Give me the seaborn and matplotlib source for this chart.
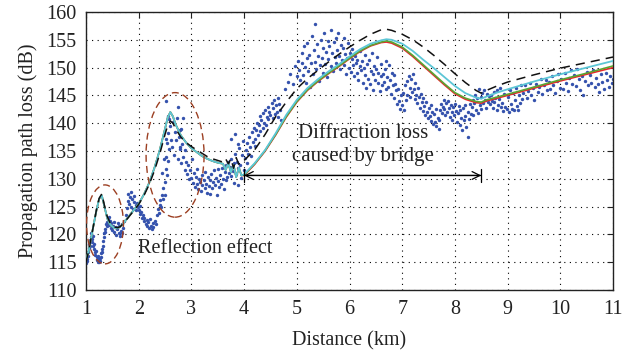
import matplotlib
matplotlib.use("Agg")
import matplotlib.pyplot as plt
from matplotlib.patches import Ellipse
import seaborn as sns
import pandas as pd

# ---------------- data ----------------
measured_points = [
    (1.00,114.8),(1.01,115.5),(1.02,115.2),(1.03,116.1),(1.04,116.8),(1.05,117.5),(1.06,118.3),(1.07,117.9),
    (1.08,119.0),(1.09,119.6),(1.10,120.3),(1.11,119.2),
    (1.12,118.6),(1.13,119.8),(1.14,118.0),(1.15,117.4),(1.16,118.2),(1.17,116.9),(1.18,116.3),(1.19,117.1),
    (1.20,115.9),(1.21,115.4),(1.22,116.2),(1.23,115.1),(1.24,115.6),(1.25,115.0),(1.26,115.8),(1.27,115.3),(1.28,116.0),
    (1.29,116.6),(1.30,117.3),(1.31,116.9),(1.32,118.0),(1.33,118.8),(1.34,119.5),(1.35,120.3),(1.36,121.0),
    (1.37,120.4),(1.38,121.8),(1.39,122.3),(1.40,121.5),(1.41,122.8),(1.42,122.0),(1.43,123.1),(1.44,121.7),(1.45,122.4),
    (1.47,121.2),(1.48,122.0),(1.50,120.8),(1.51,121.6),(1.53,122.3),(1.54,120.5),(1.56,121.4),(1.57,119.9),
    (1.59,121.0),(1.60,122.1),(1.62,120.3),(1.63,121.5),(1.65,119.8),(1.66,120.7),(1.68,121.9),(1.69,120.2),(1.71,121.1),(1.72,122.5),
    (1.75,123.5),(1.77,124.8),(1.79,126.0),(1.80,127.2),(1.82,125.5),(1.83,126.8),(1.85,125.0),(1.86,127.6),
    (1.88,126.3),(1.89,124.6),(1.91,125.9),(1.92,126.9),(1.94,125.2),(1.95,124.3),(1.97,125.7),(1.98,124.9),
    (2.00,124.4),(2.02,125.1),(2.03,123.6),(2.05,124.0),(2.06,122.9),(2.08,123.5),(2.10,122.4),(2.11,123.0),
    (2.13,121.9),(2.15,122.6),(2.16,121.5),(2.18,122.2),(2.20,121.2),(2.21,122.8),(2.23,121.6),(2.25,120.9),
    (2.27,122.0),(2.28,121.3),(2.30,122.5),(2.32,121.8),
    (2.34,123.4),(2.36,124.5),(2.38,123.9),(2.40,125.3),(2.41,126.2),(2.43,125.0),(2.44,127.1),(2.46,126.4),
    (2.47,128.3),(2.49,127.0),(2.50,129.5),(2.51,131.8),(2.52,134.0),(2.53,130.6),(2.54,136.5),(2.55,133.2),
    (2.56,138.3),(2.57,135.4),(2.58,140.8),(2.45,131.0),(2.48,133.5),(2.52,137.2),(2.55,141.3),(2.52,144.0),
    (2.60,139.5),(2.62,137.0),(2.75,143.0),(2.84,141.0),(2.78,138.8),(2.79,135.7),
    (2.63,135.8),(2.65,140.2),(2.67,134.2),(2.69,138.4),(2.71,136.9),(2.73,141.0),(2.74,133.5),(2.76,137.6),
    (2.78,135.3),(2.80,139.0),(2.81,132.8),(2.83,136.2),(2.85,134.0),(2.87,131.6),(2.88,135.1),(2.90,133.0),
    (2.92,130.8),(2.94,132.4),(2.96,129.9),(2.98,131.5),(3.00,130.2),(3.02,133.6),
    (3.03,129.3),(3.05,131.0),(3.06,128.6),(3.08,130.4),(3.10,129.0),(3.11,131.7),(3.13,128.1),(3.15,130.0),
    (3.16,129.4),(3.18,127.8),(3.20,130.6),(3.21,128.9),(3.23,129.7),(3.25,128.3),(3.26,131.2),(3.28,129.0),
    (3.30,127.5),(3.31,130.3),(3.33,128.7),(3.35,129.8),(3.36,127.2),(3.38,130.9),(3.40,128.4),(3.41,129.5),
    (3.43,131.5),(3.45,128.9),(3.46,130.2),(3.48,127.0),(3.50,129.6),(3.51,131.8),(3.53,128.5),(3.55,130.6),
    (3.56,129.1),(3.58,132.0),(3.60,130.0),(3.61,128.2),(3.63,131.2),(3.65,129.7),(3.66,132.5),(3.68,130.4),
    (3.70,133.0),(3.71,131.1),
    (3.73,132.2),(3.75,130.5),(3.76,133.6),(3.78,131.4),(3.80,129.3),(3.81,132.8),(3.83,134.5),(3.85,130.8),
    (3.86,133.0),(3.88,128.9),(3.89,131.9),(3.91,135.6),(3.93,132.5),(3.94,130.2),(3.96,134.2),(3.98,136.8),
    (3.99,131.5),(3.75,137.2),(3.82,138.0),(3.88,136.2),
    (4.01,133.8),(4.03,135.2),(4.05,132.9),(4.06,136.4),(4.08,134.5),(4.10,137.6),(4.11,135.8),(4.13,134.1),
    (4.15,138.5),(4.16,136.7),(4.18,139.2),(4.20,137.1),(4.21,135.9),(4.23,138.8),(4.25,140.1),(4.26,137.9),
    (4.28,139.6),(4.30,141.3),(4.31,138.6),(4.33,140.5),(4.35,139.2),(4.36,141.8),(4.38,140.0),(4.40,142.4),
    (4.41,139.6),(4.43,141.1),(4.45,143.0),(4.46,140.7),(4.48,142.1),(4.50,141.5),
    (4.52,143.6),(4.54,140.9),(4.55,142.8),(4.57,144.1),(4.59,141.7),(4.60,143.3),(4.62,142.0),(4.64,144.6),
    (4.65,141.2),(4.67,143.5),(4.69,142.4),(4.70,140.5),
    (4.78,146.2),(4.83,147.5),(4.88,148.9),(4.92,147.0),(4.96,150.3),(5.00,148.4),(5.03,151.2),(5.05,149.6),
    (5.07,147.8),(5.09,150.9),(5.10,152.6),(5.12,148.6),(5.14,153.8),(5.15,150.1),(5.17,147.2),(5.19,151.7),
    (5.20,154.5),(5.22,149.3),(5.24,152.3),(5.25,146.5),(5.27,150.8),(5.29,155.6),(5.30,148.9),(5.32,153.1),
    (5.34,151.0),(5.35,157.9),(5.37,149.7),(5.39,154.2),(5.40,152.0),(5.42,147.6),(5.44,150.4),(5.45,155.0),
    (5.47,151.8),(5.49,149.1),(5.50,153.5),(5.52,156.3),(5.54,150.6),(5.55,152.8),(5.57,148.3),(5.59,154.8),
    (5.60,151.5),(5.62,153.9),(5.64,150.2),(5.65,156.7),(5.67,152.6),(5.69,149.4),(5.70,154.6),(5.72,151.9),
    (5.74,155.4),(5.75,150.8),(5.77,153.2),(5.79,156.2),(5.80,152.0),(5.82,149.7),(5.84,154.1),(5.85,151.3),
    (5.87,153.6),(5.89,150.5),(5.90,155.3),(5.92,152.4),(5.94,148.9),(5.95,151.8),(5.97,154.4),(5.99,150.0),
    (6.00,152.7),(6.02,149.2),(6.04,151.6),(6.05,153.3),(6.07,150.4),(6.09,148.5),(6.10,152.0),(6.12,150.9),
    (6.14,149.0),(6.15,151.3),(6.17,147.8),(6.19,150.2),
    (6.20,152.9),(6.22,149.5),(6.24,151.1),(6.25,147.3),(6.27,150.0),(6.29,152.2),(6.30,148.6),(6.32,146.4),
    (6.34,150.7),(6.35,148.0),(6.37,151.4),(6.39,147.1),(6.40,149.3),(6.42,152.6),(6.44,148.8),(6.45,146.0),
    (6.47,150.2),(6.49,147.7),(6.50,149.8),(6.52,151.9),(6.54,147.2),(6.55,149.0),(6.57,145.8),(6.59,148.4),
    (6.60,150.6),(6.62,146.9),(6.64,148.9),(6.65,147.5),(6.67,149.7),(6.69,146.2),
    (6.70,151.2),(6.72,148.3),(6.74,146.5),(6.75,150.4),(6.77,147.8),(6.79,145.2),(6.80,149.1),(6.82,146.8),
    (6.84,148.7),(6.85,144.6),(6.87,147.0),(6.89,145.9),(6.90,143.4),(6.92,146.2),(6.94,144.0),(6.95,142.6),(6.97,145.1),
    (7.00,143.3),(7.02,145.5),(7.04,142.4),(7.05,146.8),(7.07,144.1),(7.09,147.6),(7.10,145.0),(7.12,148.4),
    (7.14,146.3),(7.15,144.8),(7.17,147.9),(7.19,145.6),(7.20,148.8),(7.22,146.1),(7.24,144.3),(7.25,147.2),
    (7.27,145.1),(7.29,143.6),(7.30,146.4),(7.32,144.7),(7.34,142.8),(7.35,145.3),(7.37,143.9),(7.39,142.2),
    (7.40,144.6),(7.42,143.1),(7.44,141.5),(7.45,143.8),(7.47,142.0),(7.49,140.9),(7.50,142.7),(7.52,141.3),
    (7.54,143.2),(7.55,140.4),(7.57,142.1),(7.59,139.8),(7.60,141.6),(7.62,140.2),(7.64,142.6),(7.65,139.5),
    (7.67,141.0),(7.69,138.9),(7.70,140.6),
    (7.72,142.3),(7.74,143.5),(7.75,141.8),(7.77,143.0),(7.79,144.2),(7.80,142.5),(7.82,141.4),(7.84,143.6),
    (7.85,142.0),(7.87,144.0),(7.89,142.8),(7.90,141.2),(7.92,143.3),(7.94,142.1),(7.95,140.6),(7.97,142.9),
    (7.99,141.5),(8.00,143.4),(8.02,142.2),(8.04,140.3),(8.05,141.9),(8.07,143.1),(8.09,139.7),(8.10,142.4),
    (8.12,141.0),(8.14,138.8),(8.15,142.7),(8.17,140.5),(8.19,143.2),(8.20,141.3),(8.22,139.4),(8.24,142.0),
    (8.25,137.6),(8.27,140.8),(8.29,143.5),(8.30,141.6),
    (8.32,142.9),(8.34,144.1),(8.35,141.4),(8.37,143.6),(8.39,145.0),(8.40,142.3),(8.42,144.5),(8.44,141.9),
    (8.45,146.2),(8.47,143.2),(8.49,144.8),(8.50,142.6),(8.52,145.4),(8.54,143.7),(8.55,146.0),(8.57,144.2),
    (8.59,142.8),(8.60,145.3),(8.62,143.9),(8.64,144.9),
    (8.66,143.5),(8.68,145.1),(8.70,144.0),(8.72,142.7),(8.74,145.6),(8.75,143.8),(8.77,144.6),(8.79,142.4),
    (8.80,145.9),(8.82,143.3),(8.84,144.4),(8.86,146.3),(8.88,142.9),(8.90,143.7),(8.92,142.2),(8.94,145.2),
    (8.96,143.0),(8.98,142.5),(9.00,144.8),(9.02,142.1),(9.04,146.0),(9.06,143.4),(9.08,142.6),(9.10,145.5),
    (9.12,142.3),(9.14,144.2),(9.16,146.4),(9.18,143.1),(9.20,142.4),(9.22,145.0),(9.24,143.6),(9.26,146.8),(9.28,144.3),
    (9.30,145.4),(9.33,146.9),(9.36,144.6),(9.39,145.8),(9.42,147.3),(9.45,145.1),(9.48,146.4),(9.51,144.2),
    (9.54,147.0),(9.57,145.7),(9.60,146.6),(9.63,148.0),(9.66,145.3),(9.69,146.9),(9.72,147.8),(9.75,145.9),
    (9.78,147.4),(9.81,146.2),(9.84,148.5),(9.87,146.8),(9.90,145.5),(9.93,147.6),(9.96,148.9),(9.99,146.4),
    (10.02,147.9),(10.05,146.1),(10.08,149.0),(10.11,147.3),(10.14,145.8),(10.17,148.2),(10.20,149.5),(10.23,147.0),
    (10.26,148.6),(10.29,146.7),(10.32,149.8),(10.35,147.9),(10.38,146.0),(10.41,148.4),(10.44,145.1),(10.47,147.6),
    (10.50,149.2),(10.53,146.9),(10.56,148.7),(10.59,147.3),(10.62,149.6),(10.65,146.5),(10.68,148.1),(10.71,147.0),
    (10.74,145.6),(10.77,148.8),(10.80,147.4),(10.83,146.2),(10.86,149.1),(10.89,147.8),(10.92,146.6),(10.95,148.4),
    (10.98,147.2),(11.00,148.0),
]

model_distance = [1.0, 1.05, 1.1, 1.15, 1.2, 1.25, 1.3, 1.35, 1.4, 1.45, 1.5, 1.55, 1.6, 1.65, 1.7, 1.8, 1.9,
                  2.0, 2.1, 2.2, 2.3, 2.4, 2.5, 2.55, 2.6, 2.65, 2.7, 2.8, 2.9, 3.0, 3.1, 3.2, 3.3, 3.4, 3.5,
                  3.6, 3.65, 3.7, 3.75, 3.8, 3.85, 3.9, 3.95, 4.0, 4.2, 4.4, 4.6, 4.8, 5.0, 5.2, 5.4, 5.6,
                  5.8, 6.0, 6.2, 6.4, 6.6, 6.7, 6.8, 7.0, 7.2, 7.4, 7.6, 7.8, 8.0, 8.2, 8.4, 8.5, 8.6, 8.8,
                  9.0, 9.5, 10.0, 10.5, 11.0]

model_black = [115.0, 117.0, 119.5, 122.0, 124.5, 126.5, 127.3, 125.2, 123.3, 122.2, 121.6, 121.3, 121.2, 121.4,
               121.9, 123.0, 124.2, 125.4, 127.0, 129.0, 131.5, 134.5, 138.0, 139.6, 140.4, 140.0, 139.0, 137.5,
               136.5, 135.8, 135.2, 134.6, 134.0, 133.6, 133.3, 133.0, 133.6, 132.7, 133.6, 131.9, 133.8, 132.6,
               133.3, 133.3, 135.2, 138.0, 141.2, 143.8, 146.2, 148.0, 149.5, 151.0, 152.4, 153.7, 154.9, 156.0,
               156.8, 156.9, 156.7, 156.0, 155.0, 153.7, 152.2, 150.6, 148.9, 147.3, 145.9, 145.4, 145.9, 146.7,
               147.4, 148.7, 149.9, 150.9, 151.9]

model_cyan = [115.3, 117.0, 119.5, 122.0, 124.4, 126.4, 127.0, 125.0, 123.0, 121.9, 121.4, 121.1, 121.1, 121.4,
              121.9, 123.1, 124.3, 125.5, 127.2, 129.3, 132.0, 135.2, 139.0, 141.0, 142.0, 141.2, 139.8, 137.8,
              136.5, 135.5, 134.8, 134.1, 133.6, 133.2, 132.9, 132.7, 131.6, 132.8, 131.2, 132.5, 130.3, 132.0,
              130.6, 130.8, 132.8, 135.2, 138.2, 141.5, 144.2, 146.3, 147.9, 149.3, 150.6, 152.0, 153.3, 154.3,
              154.9, 155.1, 155.0, 154.3, 153.0, 151.4, 149.9, 148.3, 146.7, 145.4, 144.6, 144.4, 144.8, 145.5,
              146.1, 147.5, 148.8, 150.0, 151.2]

model_red = [115.3, 117.0, 119.5, 122.0, 124.4, 126.4, 127.0, 125.0, 123.0, 121.9, 121.4, 121.1, 121.1, 121.4,
             121.9, 123.1, 124.3, 125.5, 127.2, 129.3, 132.0, 135.2, 139.0, 141.0, 142.0, 141.2, 139.8, 137.8,
             136.5, 135.5, 134.8, 134.1, 133.6, 133.2, 132.9, 132.7, 131.6, 132.8, 131.2, 132.5, 130.3, 132.0,
             130.6, 130.6, 132.6, 135.0, 137.9, 141.1, 143.8, 145.9, 147.5, 148.9, 150.2, 151.6, 152.9, 153.9,
             154.5, 154.6, 154.4, 153.5, 152.0, 150.3, 148.6, 146.9, 145.3, 144.3, 143.7, 143.6, 144.0, 144.5,
             145.0, 146.3, 147.6, 148.8, 150.0]

model_green = [115.3, 117.0, 119.5, 122.0, 124.4, 126.4, 127.0, 125.0, 123.0, 121.9, 121.4, 121.1, 121.1, 121.4,
               121.9, 123.1, 124.3, 125.5, 127.2, 129.3, 132.0, 135.2, 139.0, 141.0, 142.0, 141.2, 139.8, 137.8,
               136.5, 135.5, 134.8, 134.1, 133.6, 133.2, 132.9, 132.7, 131.6, 132.8, 131.2, 132.5, 130.3, 132.0,
               130.6, 130.7, 132.7, 135.1, 138.0, 141.2, 143.9, 146.0, 147.6, 149.0, 150.3, 151.7, 153.0, 154.0,
               154.6, 154.8, 154.6, 153.7, 152.2, 150.5, 148.8, 147.1, 145.5, 144.5, 143.9, 143.8, 144.2, 144.7,
               145.2, 146.5, 147.8, 149.0, 150.3]

x_ticks = [1, 2, 3, 4, 5, 6, 7, 8, 9, 10, 11]
y_ticks = [110, 115, 120, 125, 130, 135, 140, 145, 150, 155, 160]

# ---------------- style ----------------
sns.set_style("white")
plt.rcParams['font.family'] = ['Liberation Serif', 'DejaVu Serif']

meas = pd.DataFrame(measured_points, columns=["d", "pl"])
models = pd.DataFrame({"d": model_distance, "black": model_black, "cyan": model_cyan,
                       "red": model_red, "green": model_green})

fig = plt.figure(figsize=(6.41, 3.58), dpi=100)
ax = fig.add_axes([86/641, 1 - 290/358, (613 - 86)/641, (290 - 12)/358])

sns.scatterplot(data=meas, x="d", y="pl", ax=ax, s=6, color="#3552ad", linewidth=0, zorder=2)

sns.lineplot(data=models, x="d", y="red", ax=ax, color="#e8262a", lw=1.2, sort=False, estimator=None, zorder=3)
sns.lineplot(data=models, x="d", y="green", ax=ax, color="#5aa532", lw=1.2, sort=False, estimator=None, zorder=3)
sns.lineplot(data=models, x="d", y="cyan", ax=ax, color="#5cc6d6", lw=1.3, sort=False, estimator=None, zorder=3)
sns.lineplot(data=models, x="d", y="black", ax=ax, color="#111111", lw=1.1, sort=False, estimator=None, zorder=4)
ax.lines[-1].set_linestyle((0, (6, 4)))

# ellipses
ell_color = "#9c3f22"
ax.add_patch(Ellipse((1.36, 121.8), 0.70, 14.2, fill=False, ec=ell_color, lw=1.0, ls=(0, (5, 3)), zorder=5))
ax.add_patch(Ellipse((2.69, 134.3), 1.10, 22.4, fill=False, ec=ell_color, lw=1.0, ls=(0, (5, 3)), zorder=5))

# double arrow with end bars
arrow_y = 130.6
ax.annotate("", xy=(8.5, arrow_y), xytext=(4.0, arrow_y),
            arrowprops=dict(arrowstyle="<->", color="black", lw=0.9, mutation_scale=14,
                            shrinkA=0, shrinkB=0), zorder=6)
ax.annotate("", xy=(8.5, arrow_y), xytext=(4.0, arrow_y),
            arrowprops=dict(arrowstyle="|-|,widthA=0.35,widthB=0.35", color="black", lw=0.9,
                            mutation_scale=14, shrinkA=0, shrinkB=0), zorder=6)

ax.text(6.25, 136.1, "Diffraction loss\ncaused by bridge", ha="center", va="center",
        fontsize=15, linespacing=1.3, color="#222222")
ax.text(1.99, 117.5, "Reflection effect", ha="left", va="center", fontsize=14.5, color="#222222")

ax.set_xlim(1, 11)
ax.set_ylim(110, 160)
ax.set_xticks(x_ticks)
ax.set_yticks(y_ticks)
ax.set_xlabel("Distance (km)", fontsize=14.5, labelpad=9, color="#222222")
ax.set_ylabel("Propagation path loss (dB)", fontsize=14.5, labelpad=6, color="#222222")
ax.tick_params(direction="in", length=4, width=0.8, top=True, right=True, labelsize=14.5,
               colors="#222222", pad=7)
ax.grid(True, linestyle=(0, (1, 4)), color="black", lw=0.8)
for sp in ax.spines.values():
    sp.set_color("#222222")
    sp.set_linewidth(1.0)

fig.savefig("out.png", dpi=100)
